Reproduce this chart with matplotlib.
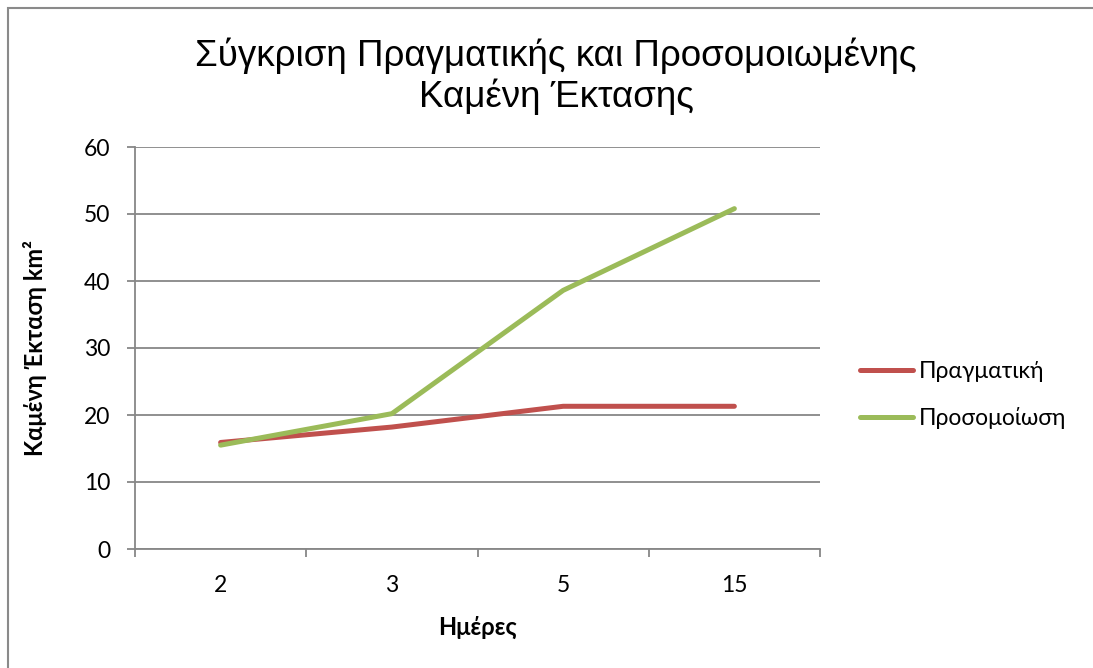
import matplotlib
matplotlib.use("Agg")
import matplotlib.pyplot as plt
from matplotlib.patches import Rectangle
from matplotlib.ticker import FixedLocator, NullFormatter

days = ["2", "3", "5", "15"]
actual = [15.9, 18.2, 21.3, 21.3]
simulated = [15.5, 20.2, 38.6, 50.8]
series_names = ["Πραγματική", "Προσομοίωση"]
title_text = "Σύγκριση Πραγματικής και Προσομοιωμένης\nΚαμένη Έκτασης"
xlabel_text = "Ημέρες"
ylabel_text = "Καμένη Έκταση km²"
yticks = [0, 10, 20, 30, 40, 50, 60]

W, H = 1093, 668
fig = plt.figure(figsize=(W / 100, H / 100), dpi=100)
fig.patch.set_facecolor("white")

# outer chart border
fig.patches.append(Rectangle((8 / W, -0.05), 1.2, 1 - 8 / H + 0.05, transform=fig.transFigure,
                             fill=False, edgecolor="#8a8a8a", linewidth=1.5, zorder=0))

ax = fig.add_axes([135 / W, 1 - 549 / H, (820 - 135) / W, (549 - 147) / H])
gray = "#878787"
body_font = ["Lato", "DejaVu Sans"]

x = list(range(len(days)))
ax.plot(x, actual, color="#C0504D", linewidth=3.6, solid_capstyle="round",
        solid_joinstyle="round", label=series_names[0], zorder=3)
ax.plot(x, simulated, color="#9BBB59", linewidth=3.6, solid_capstyle="round",
        solid_joinstyle="round", label=series_names[1], zorder=4)

ax.set_xlim(-0.5, len(days) - 0.5)
ax.set_ylim(0, 60)
ax.set_yticks(yticks)
ax.yaxis.grid(True, color=gray, linewidth=1.3)
ax.set_axisbelow(True)

ax.xaxis.set_major_locator(FixedLocator([i - 0.5 for i in range(len(days) + 1)]))
ax.xaxis.set_major_formatter(NullFormatter())
ax.xaxis.set_minor_locator(FixedLocator(x))
ax.set_xticklabels(days, minor=True)
ax.tick_params(axis="x", which="major", length=6, width=1.3, color=gray, direction="out")
ax.tick_params(axis="x", which="minor", length=0, pad=19)
ax.tick_params(axis="y", length=6, width=1.3, color=gray, direction="out", pad=12)

for lab in ax.get_xticklabels(minor=True) + ax.get_yticklabels():
    lab.set_fontfamily(body_font)
    lab.set_fontsize(16.5)
    lab.set_color("black")

for s in ["top", "right"]:
    ax.spines[s].set_visible(False)
for s in ["left", "bottom"]:
    ax.spines[s].set_color(gray)
    ax.spines[s].set_linewidth(1.3)

ax.set_xlabel(xlabel_text, fontsize=17, fontweight="bold", family=body_font)
ax.set_ylabel(ylabel_text, fontsize=17, fontweight="bold", family=body_font)
ax.xaxis.label.set_va("center")
ax.yaxis.label.set_va("center")
ax.xaxis.set_label_coords(0.5, (549 - 627) / 402)
ax.yaxis.set_label_coords((35 - 135) / 685, 0.5)

fig.text(556 / W, 1 - 76 / H, title_text, ha="center", va="center", fontsize=26.5,
         family=["Liberation Sans", "DejaVu Sans"], linespacing=1.15)

leg = ax.legend(loc="center left", bbox_to_anchor=(860 / W, 1 - 395 / H),
                bbox_transform=fig.transFigure, frameon=False, borderpad=0,
                borderaxespad=0, handlelength=2.3, handletextpad=0.25, labelspacing=1.1,
                prop={"family": body_font, "size": 16.5})

fig.savefig("out.png", dpi=100, facecolor="white")
